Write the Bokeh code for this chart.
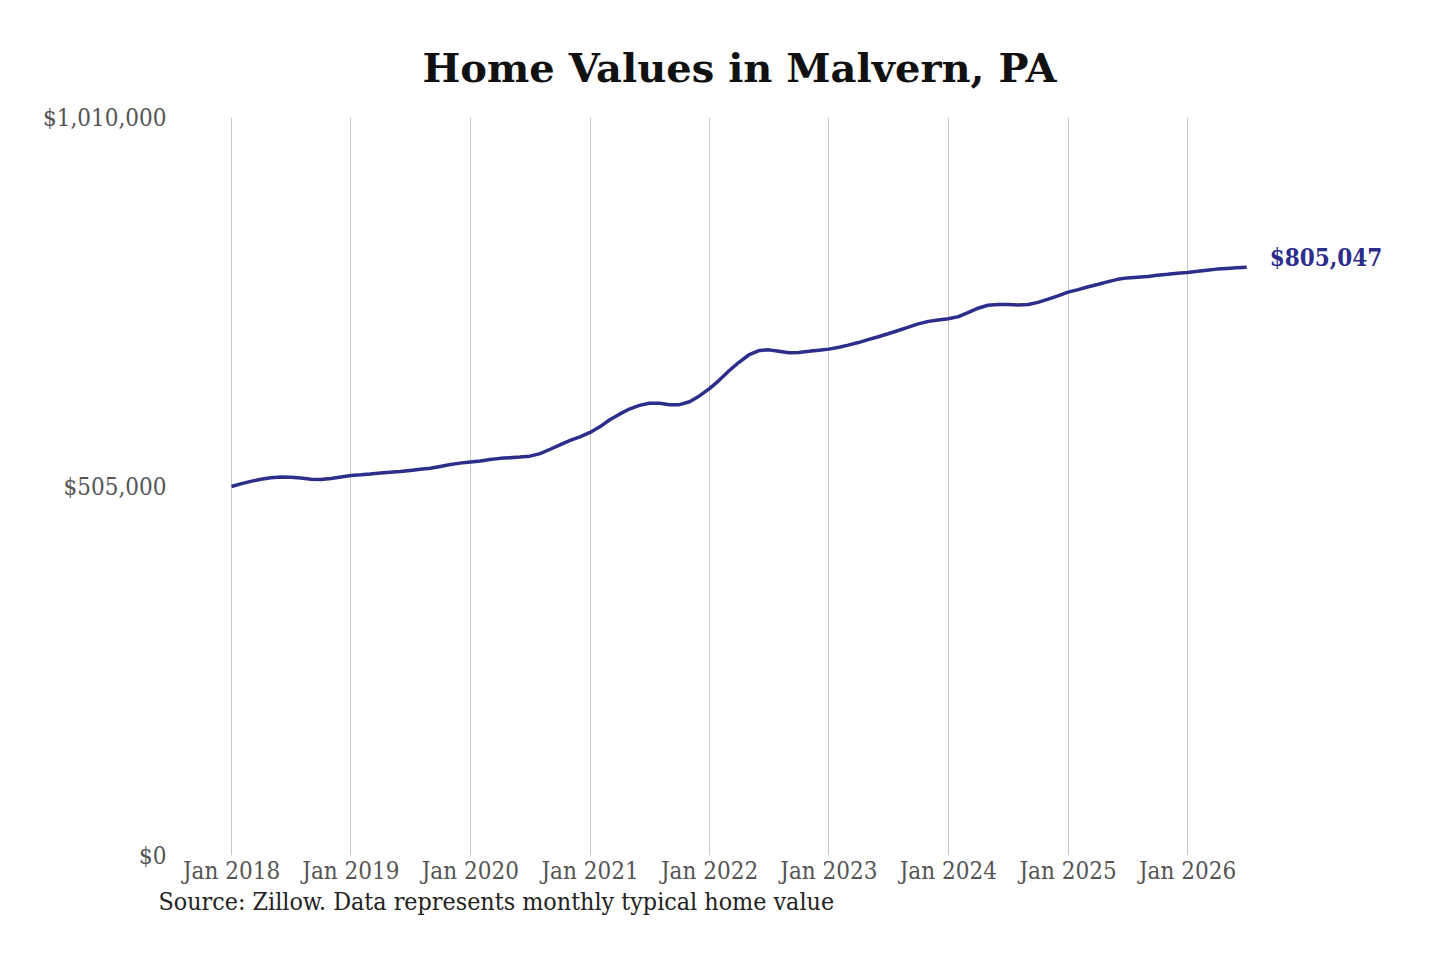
from datetime import datetime, timedelta
from bokeh.plotting import figure
from bokeh.models import (FixedTicker, NumeralTickFormatter, DatetimeTickFormatter,
                          Range1d, Title, ColumnDataSource, DatetimeAxis)
from bokeh.core.properties import value
from bokeh.embed import file_html
from bokeh.resources import INLINE

# ---- data (monthly typical home value, Jan 2018 .. Jul 2026) ----
start_year = 2018
values_2018 = [505000, 509000, 512000, 515000, 517000, 518000, 517500, 516500, 515000, 514500, 516000, 518000]
values_2019 = [520000, 521000, 522000, 523500, 524500, 525500, 527000, 528500, 530000, 532500, 535000, 537000]
values_2020 = [538500, 540000, 542000, 543500, 544500, 545500, 546500, 550000, 556000, 562000, 568000, 573000]
values_2021 = [579000, 587000, 596000, 604000, 611000, 616000, 619000, 619000, 617000, 617000, 621000, 629000]
values_2022 = [639000, 651000, 663000, 675000, 685000, 691000, 692000, 690000, 688000, 688500, 690000, 691500]
values_2023 = [693000, 695500, 698500, 702000, 706000, 710000, 714000, 718500, 723000, 727500, 731000, 733000]
values_2024 = [734500, 737500, 743000, 749000, 753000, 754000, 754000, 753500, 754000, 757000, 761500, 766000]
values_2025 = [771000, 774500, 778000, 781500, 785000, 788500, 790500, 791500, 792500, 794000, 795500, 797000]
values_2026 = [798000, 799500, 801000, 802500, 803500, 804500, 805047]

y_ticks = [0, 505000, 1010000]
x_tick_years = list(range(2018, 2027))

title_text = "Home Values in Malvern, PA"
source_text = "Source: Zillow. Data represents monthly typical home value"

values = (values_2018 + values_2019 + values_2020 + values_2021 + values_2022 +
          values_2023 + values_2024 + values_2025 + values_2026)
dates = []
for i in range(len(values)):
    y = start_year + i // 12
    m = i % 12 + 1
    dates.append(datetime(y, m, 1))

LINE = "#2d2d8c"
FONT = "DejaVu Serif Condensed, DejaVu Serif"
GREY = "#555555"

# layout: map pixels -> dates
px_per_day = 119.5 / 365.25
jan2018 = datetime(2018, 1, 1)
x_start = jan2018 - timedelta(days=(231 - 180) / px_per_day)
x_end = jan2018 + timedelta(days=(1400 - 231) / px_per_day)

p = figure(width=1424, height=944, x_axis_type="datetime",
           output_backend="svg", toolbar_location=None,
           x_range=Range1d(x_start, x_end), y_range=Range1d(0, 1010000),
           min_border_left=180, min_border_right=24, min_border_top=117,
           min_border_bottom=89)
p.outline_line_color = None
p.background_fill_color = "white"
p.border_fill_color = "white"

src = ColumnDataSource(dict(x=dates, y=values))
p.line("x", "y", source=src, line_color=LINE, line_width=3.5)

last_label = "${:,.0f}".format(values[-1])
p.text(x=[dates[-1]], y=[values[-1]], text=[last_label], x_offset=23, y_offset=-10,
       text_baseline="middle", text_align="left", text_color=LINE,
       text_font=value(FONT), text_font_size="24px", text_font_style="bold")

# axes
tick_ms = [datetime(y, 1, 1).timestamp() * 1000 for y in x_tick_years]
p.xaxis.ticker = FixedTicker(ticks=tick_ms)
fmt = "%b %Y"
p.xaxis.formatter = DatetimeTickFormatter(years=fmt, months=fmt, days=fmt, hours=fmt,
                                          minutes=fmt, seconds=fmt, milliseconds=fmt,
                                          microseconds=fmt, minsec=fmt, hourmin=fmt)
p.yaxis.ticker = FixedTicker(ticks=y_ticks)
p.yaxis.formatter = NumeralTickFormatter(format="$0,0")
for ax in (p.xaxis, p.yaxis):
    ax.axis_line_color = None
    ax.major_tick_line_color = None
    ax.minor_tick_line_color = None
    ax.major_label_text_font = FONT
    ax.major_label_text_font_size = "24px"
    ax.major_label_text_color = GREY
p.xaxis.major_tick_in = 0
p.xaxis.major_tick_out = 38
p.xaxis.major_label_standoff = -37
p.yaxis.major_label_standoff = 8

# empty spacer axis (no ticks, no labels) to leave room above the source note
spacer_axis = DatetimeAxis(ticker=FixedTicker(ticks=[]), axis_line_color=None,
                           major_tick_line_color=None, minor_tick_line_color=None,
                           major_tick_in=0, major_tick_out=28, minor_tick_out=0,
                           major_label_standoff=0)
p.add_layout(spacer_axis, "below")

p.xgrid.ticker = FixedTicker(ticks=tick_ms)
p.xgrid.grid_line_color = "#c8c8c8"
p.xgrid.grid_line_width = 1
p.ygrid.grid_line_color = None

p.title.text = title_text
p.title.text_font = "DejaVu Serif"
p.title.text_font_style = "bold"
p.title.text_font_size = "40px"
p.title.text_color = "#111111"
p.title.align = "left"
p.title.offset = 242
p.title.standoff = 54

src_title = Title(text=source_text, align="left", offset=-22, text_font=FONT,
                  text_font_size="24.8px", text_font_style="normal", text_color="#222222",
                  standoff=-6, vertical_align="bottom")
p.add_layout(src_title, "below")

open("out.html", "w").write(file_html(p, INLINE))
